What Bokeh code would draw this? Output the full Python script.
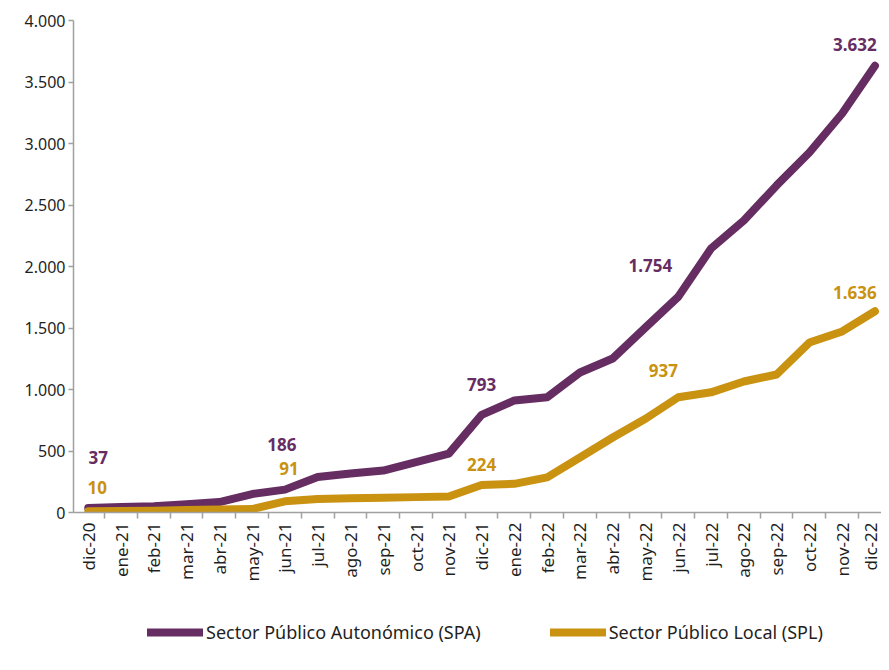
import math
from bokeh.plotting import figure
from bokeh.layouts import column
from bokeh.models import FixedTicker, Legend, LegendItem, Label, Range1d
from bokeh.embed import file_html
from bokeh.resources import INLINE

months = ["dic-20", "ene-21", "feb-21", "mar-21", "abr-21", "may-21", "jun-21",
          "jul-21", "ago-21", "sep-21", "oct-21", "nov-21", "dic-21", "ene-22",
          "feb-22", "mar-22", "abr-22", "may-22", "jun-22", "jul-22", "ago-22",
          "sep-22", "oct-22", "nov-22", "dic-22"]
spa = [37, 45, 50, 68, 85, 150, 186, 288, 317, 341, 409, 479, 793, 911, 937,
       1138, 1252, 1504, 1754, 2146, 2374, 2659, 2927, 3244, 3632]
spl = [10, 12, 14, 20, 25, 28, 91, 110, 116, 120, 125, 130, 224, 233, 286,
       447, 610, 762, 937, 977, 1065, 1122, 1382, 1472, 1636]
series_names = ["Sector Público Autonómico (SPA)", "Sector Público Local (SPL)"]
label_idx = [0, 6, 12, 18, 24]
y_ticks = [0, 500, 1000, 1500, 2000, 2500, 3000, 3500, 4000]

PURPLE = "#662D62"
GOLD = "#C99211"
FONT = "Noto Sans"
TXT = "#1F1F1F"


def fmt(v):
    return f"{v:,}".replace(",", ".")


x = list(range(len(months)))

p = figure(width=881, height=590, output_backend="svg", toolbar_location=None,
           x_range=Range1d(-0.45, len(months) - 0.8), y_range=Range1d(0, 4000),
           min_border_left=73, min_border_right=0, min_border_top=20,
           min_border_bottom=78)
p.outline_line_color = None
p.xgrid.visible = False
p.ygrid.visible = False

# y axis
p.yaxis.ticker = FixedTicker(ticks=y_ticks)
p.yaxis.major_label_overrides = {t: fmt(t) for t in y_ticks}
p.yaxis.major_label_text_font = FONT
p.yaxis.major_label_text_font_size = "16px"
p.yaxis.major_label_text_color = TXT
p.yaxis.axis_line_color = "#A0A0A0"
p.yaxis.axis_line_width = 1.5
p.yaxis.major_tick_line_color = "#A0A0A0"
p.yaxis.major_tick_line_width = 1.5
p.yaxis.major_tick_in = 0
p.yaxis.major_tick_out = 5
p.yaxis.minor_tick_line_color = None
p.yaxis.major_label_standoff = 3

# x axis: labels at category centres, tick marks at category boundaries
bounds = [i - 0.5 for i in range(len(months) + 1)]
p.xaxis.ticker = FixedTicker(ticks=x, minor_ticks=bounds)
p.xaxis.major_label_overrides = {i: m for i, m in enumerate(months)}
p.xaxis.major_label_orientation = math.pi / 2
p.xaxis.major_label_text_font = FONT
p.xaxis.major_label_text_font_size = "17px"
p.xaxis.major_label_text_color = TXT
p.xaxis.major_tick_line_color = None
p.xaxis.major_tick_out = 0
p.xaxis.major_tick_in = 0
p.xaxis.minor_tick_line_color = "#A0A0A0"
p.xaxis.minor_tick_line_width = 1.5
p.xaxis.minor_tick_in = 0
p.xaxis.minor_tick_out = 6
p.xaxis.axis_line_color = "#A0A0A0"
p.xaxis.axis_line_width = 1.5
p.xaxis.major_label_standoff = 4

p.line(x, spa, line_color=PURPLE, line_width=8, line_cap="round", line_join="round")
p.line(x, spl, line_color=GOLD, line_width=8, line_cap="round", line_join="round")

spa_offsets = [(10, 50), (-3, 45), (0, 30), (-28, 31), (-20, 21)]
spl_offsets = [(9, 24), (4, 33), (0, 20), (-15, 27), (-20, 19)]

for series, offs, col in ((spa, spa_offsets, PURPLE), (spl, spl_offsets, GOLD)):
    for i, (dx, dy) in zip(label_idx, offs):
        p.add_layout(Label(x=i, y=series[i], x_offset=dx, y_offset=dy, text=fmt(series[i]),
                           text_align="center", text_baseline="middle",
                           text_font=FONT, text_font_style="bold",
                           text_font_size="17px", text_color=col))

# legend strip below the chart (its own small figure; the series lines lie outside its range)
leg = figure(width=881, height=72, output_backend="svg", toolbar_location=None,
             x_range=Range1d(-0.45, len(months) - 0.8), y_range=Range1d(-20, -10),
             x_axis_location=None, y_axis_location=None,
             min_border_left=0, min_border_right=0, min_border_top=0, min_border_bottom=0)
leg.outline_line_color = None
leg.xgrid.visible = False
leg.ygrid.visible = False
l1 = leg.line(x, spa, line_color=PURPLE, line_width=8, line_cap="round")
l2 = leg.line(x, spl, line_color=GOLD, line_width=8, line_cap="round")

legend = Legend(items=[LegendItem(label=series_names[0], renderers=[l1]),
                       LegendItem(label=series_names[1], renderers=[l2])],
                orientation="horizontal", location=(74, 18),
                glyph_width=56, glyph_height=18, label_standoff=3, spacing=69,
                label_text_font=FONT, label_text_font_size="18px", label_text_color=TXT,
                border_line_color=None, background_fill_alpha=0, margin=0, padding=0)
leg.add_layout(legend)

open("out.html", "w").write(file_html(column(p, leg), INLINE))
